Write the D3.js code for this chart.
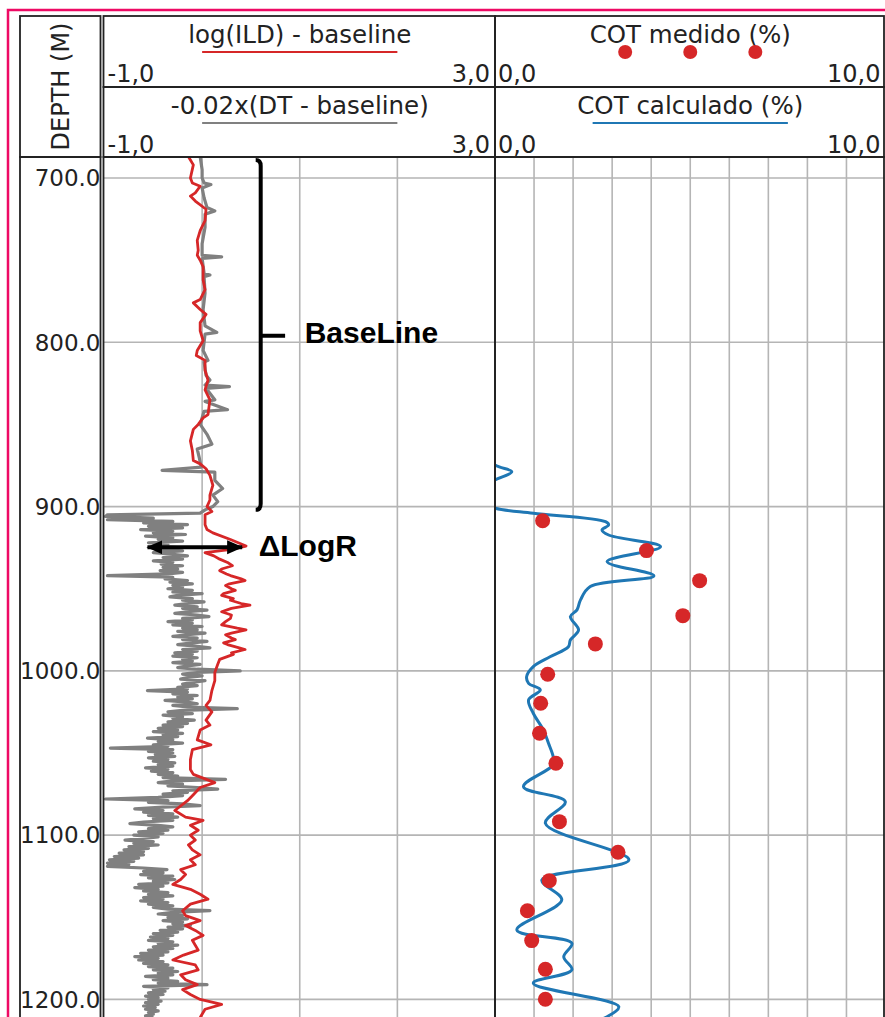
<!DOCTYPE html>
<meta charset="utf-8">
<head>
<style>
  body {
    margin: 0;
    background-color: white;
  }
  svg text {
    font-family: 'DejaVu Sans', sans-serif;
    fill: #222;
  }
  .note {
    font-family: 'Liberation Sans', Arial, sans-serif !important;
    font-weight: bold;
    fill: #000 !important;
  }
</style>
</head>
<body>
<div id="my_dataviz"></div>

<script src="https://cdn.jsdelivr.net/npm/d3@7"></script>
<script>

// ---- data: [depth (m), value] ----
var ildLog = [
  [687,-0.14],[692,-0.09],[700,-0.12],[703,-0.10],[705,-0.02],[709,-0.07],[711,-0.12],[714,-0.07],
  [719,0.04],[726,0.03],[732,-0.02],[738,-0.05],[744,-0.04],[747,-0.05],[750,-0.02],[754,0.01],
  [762,0.01],[768,0.03],[774,-0.02],[776,-0.09],[780,-0.02],[783,0.04],[788,-0.02],[793,-0.02],
  [799,0.01],[805,-0.05],[808,-0.06],[811,0.03],[817,0.03],[823,0.06],[829,0.03],[835,0.08],
  [844,0.06],[846,0.01],[850,-0.04],[853,-0.09],[860,-0.12],[866,-0.10],[872,-0.09],[874,-0.02],
  [877,0.04],[881,0.08],[887,0.11],[893,0.08],[896,0.08],[900,0.05],[903,0.10],[905,0.03],
  [911,0.03],[914,0.05],[916,0.11],[920,0.29],[924,0.45],[926,0.30],[928,0.03],[930,0.12],[932,0.18],
  [934,0.26],[936,0.31],[938,0.2],[939,0.18],[941,0.25],[942,0.29],[944,0.4],[945,0.44],[947,0.28],[948,0.24],
  [950,0.3],[951,0.34],[953,0.22],[954,0.20],[956,0.32],[957,0.29],[959,0.4],[960,0.49],[962,0.3],[964,0.20],
  [966,0.3],[968,0.29],[970,0.24],[972,0.20],[974,0.36],[975,0.45],[977,0.3],[978,0.24],[980,0.3],[981,0.34],
  [983,0.22],[984,0.26],[986,0.38],[987,0.44],[989,0.3],[990,0.32],[993,0.18],[996,0.16],[1001,0.13],
  [1006,0.13],[1012,0.10],[1018,0.08],
  [1021,0.04],[1025,0.10],[1030,0.04],[1033,0.08],[1036,-0.02],[1042,-0.05],[1045,0.09],[1048,-0.10],
  [1054,-0.12],[1060,-0.12],[1063,-0.09],[1068,0.13],[1071,-0.02],[1076,-0.10],[1079,-0.15],[1085,-0.28],
  [1089,-0.17],[1091,0.01],[1094,-0.12],[1097,-0.04],[1100,-0.12],[1103,-0.07],[1106,-0.14],[1109,-0.10],
  [1112,-0.02],[1115,-0.12],[1118,-0.07],[1121,-0.22],[1124,-0.17],[1127,-0.22],[1130,-0.30],[1133,-0.12],
  [1136,-0.02],[1139,0.06],[1142,-0.12],[1146,-0.20],[1149,-0.17],[1152,-0.02],[1155,-0.17],[1158,-0.07],
  [1161,0.01],[1164,-0.10],[1167,-0.07],[1170,-0.04],[1173,-0.19],[1176,-0.30],[1179,-0.07],[1182,-0.04],
  [1185,-0.22],[1188,-0.17],[1191,-0.05],[1194,-0.20],[1197,-0.12],[1200,-0.02],[1203,0.20],[1206,0.03],
  [1211,-0.02]
];

var dtLog = [
  [687,-0.02],[695,0.00],[700,0.00],[703,0.02],[704,0.09],[706,0.00],[712,0.02],[718,0.05],
  [720,0.13],[722,0.03],[730,0.03],[740,0.00],[747,0.00],[748,0.20],[749,0.00],[758,0.02],
  [759,0.08],[760,0.02],[770,0.03],[780,0.01],[790,0.03],[794,0.15],[795,0.03],[805,0.01],
  [811,0.06],[812,0.02],[820,0.04],[823,0.08],[826,0.03],[827,0.28],[828,0.04],[835,0.13],
  [836,0.03],[841,0.26],[842,0.02],[850,-0.02],[856,0.05],[862,0.10],[865,-0.05],[870,-0.03],
  [876,-0.01],[878,-0.41],[879,0.13],[884,0.13],[889,0.21],[893,0.11],[897,0.16],[900,0.11],
  [902,0.03],[904,-0.02],[905,-0.97],[906,-0.99],[907,-0.5],[908,-0.97],[909,-0.3],[910,-0.6],
  [911,-0.15],[912,-0.55],[913,-0.2],[914,-0.63],[915,-0.3],[916,-0.5],[917,-0.17],[918,-0.58],
  [919,-0.3],[920,-0.45],[921,-0.2],[922,-0.55],[923,-0.35],[924,-0.5],[925,-0.25],[926,-0.45],
  [927,-0.2],[928,-0.5],[929,-0.3],[930,-0.15],[931,-0.4],[932,-0.2],[933,-0.5],[934,-0.3],
  [935,-0.42],[936,-0.2],[937,-0.4],[938,-0.25],[939,-0.43],[940,-0.2],[941,-0.35],[942,-0.97],
  [943,-0.3],[944,-0.38],[945,-0.15],[946,-0.33],[947,-0.1],[948,-0.3],[949,-0.2],[950,-0.35],
  [951,-0.1],[952,-0.3],[953,0.0],[954,-0.25],[955,-0.33],[956,-0.1],[957,-0.2],[958,0.02],
  [959,-0.15],[960,-0.28],[961,-0.05],[962,-0.2],[963,0.05],[964,-0.15],[965,-0.28],[966,-0.05],
  [967,0.07],[968,-0.2],[969,-0.1],[970,-0.35],[971,-0.1],[972,-0.3],[973,0.0],[974,-0.2],
  [975,-0.05],[976,-0.25],[977,0.03],[978,-0.15],[979,-0.3],[980,-0.05],[981,-0.2],[982,0.05],
  [983,-0.1],[984,-0.25],[985,-0.05],[986,0.08],[987,-0.2],[988,-0.05],[989,-0.28],[990,-0.1],
  [991,-0.3],[992,-0.05],[993,-0.2],[994,-0.1],[995,-0.3],[996,-0.02],[997,-0.15],[998,-0.25],
  [999,-0.05],[1000,0.39],[1001,-0.05],[1002,-0.2],[1003,0.0],[1004,-0.15],[1005,-0.22],[1006,0.03],
  [1007,-0.1],[1008,-0.2],[1009,-0.05],[1010,-0.25],[1011,-0.15],[1012,-0.56],[1013,-0.15],[1014,-0.3],
  [1015,-0.05],[1016,-0.25],[1017,-0.1],[1018,-0.38],[1019,-0.15],[1020,-0.05],[1021,-0.3],[1022,-0.15],
  [1023,0.36],[1024,-0.2],[1025,-0.35],[1026,-0.1],[1027,-0.4],[1028,-0.2],[1029,-0.3],[1030,-0.08],
  [1031,-0.35],[1032,-0.15],[1033,-0.4],[1034,-0.2],[1035,-0.45],[1036,-0.25],[1037,-0.5],[1038,-0.2],
  [1039,-0.4],[1040,-0.25],[1041,-0.56],[1042,-0.3],[1043,-0.45],[1044,-0.2],[1045,-0.5],[1046,-0.35],
  [1047,-0.94],[1048,-0.3],[1049,-0.55],[1050,-0.3],[1051,-0.48],[1052,-0.28],[1053,-0.55],[1054,-0.35],
  [1055,-0.5],[1056,-0.28],[1057,-0.45],[1058,-0.3],[1059,-0.58],[1060,-0.35],[1061,-0.52],[1062,-0.3],
  [1063,-0.45],[1064,-0.25],[1065,-0.4],[1066,0.24],[1067,-0.3],[1068,-0.45],[1069,-0.2],[1070,-0.35],
  [1071,-0.05],[1072,0.16],[1073,-0.3],[1074,-0.15],[1075,-0.4],[1076,-0.2],[1077,-0.45],[1078,-0.99],
  [1079,-0.35],[1080,-0.55],[1081,-0.2],[1082,-0.02],[1083,-0.4],[1084,-0.69],[1085,-0.4],[1086,-0.6],
  [1087,-0.3],[1088,-0.55],[1089,-0.25],[1090,-0.5],[1091,-0.3],[1092,-0.6],[1093,-0.74],[1094,-0.45],
  [1095,-0.3],[1096,-0.55],[1097,-0.35],[1098,-0.65],[1099,-0.4],[1100,-0.7],[1101,-0.45],[1102,-0.6],
  [1103,-0.79],[1104,-0.5],[1105,-0.7],[1106,-0.45],[1107,-0.75],[1108,-0.55],[1109,-0.8],[1110,-0.6],
  [1111,-0.85],[1112,-0.6],[1113,-0.9],[1114,-0.65],[1115,-0.95],[1116,-0.7],[1117,-0.97],[1118,-0.75],
  [1119,-0.97],[1120,-0.6],[1121,-0.36],[1122,-0.6],[1123,-0.4],[1124,-0.63],[1125,-0.3],[1126,-0.55],
  [1127,-0.28],[1128,-0.5],[1129,-0.35],[1130,-0.65],[1131,-0.4],[1132,-0.69],[1133,-0.45],[1134,-0.6],
  [1135,-0.35],[1136,-0.55],[1137,-0.3],[1138,-0.6],[1139,-0.4],[1140,-0.63],[1141,-0.35],[1142,-0.55],
  [1143,-0.3],[1144,-0.5],[1145,-0.35],[1146,0.08],[1147,-0.3],[1148,-0.45],[1149,-0.2],[1150,-0.35],
  [1151,-0.15],[1152,-0.4],[1153,-0.2],[1154,-0.3],[1155,-0.12],[1156,-0.35],[1157,-0.2],[1158,-0.43],
  [1159,-0.25],[1160,-0.5],[1161,-0.3],[1162,-0.53],[1163,-0.35],[1164,-0.55],[1165,-0.3],[1166,-0.45],
  [1167,-0.25],[1168,-0.5],[1169,-0.3],[1170,-0.55],[1171,-0.35],[1172,-0.63],[1173,-0.4],[1174,-0.69],
  [1175,-0.45],[1176,-0.65],[1177,-0.4],[1178,-0.6],[1179,-0.35],[1180,-0.55],[1181,-0.3],[1182,-0.5],
  [1183,-0.25],[1184,-0.45],[1185,-0.3],[1186,-0.58],[1187,-0.35],[1188,-0.5],[1189,-0.25],[1190,-0.45],
  [1191,0.05],[1192,-0.6],[1193,-0.35],[1194,-0.5],[1195,-0.38],[1196,-0.55],[1197,-0.4],[1198,-0.58],
  [1199,-0.45],[1200,-0.55],[1201,-0.42],[1202,-0.58],[1203,-0.45],[1204,-0.6],[1205,-0.48],[1206,-0.58],
  [1207,-0.45],[1208,-0.55],[1209,-0.5],[1210,-0.58],[1211,-0.5]
];

var cotCalculado = [
  [866,-0.4],[874.7,0],[878.8,0.43],[883.8,0],[890,-0.5],[897,-0.4],[901,0],[904.1,0.98],
  [909.2,2.83],[911.2,2.91],[914.2,2.74],[917.3,2.91],[924.4,4.24],[933.5,2.87],[942.2,4.07],[948.7,2.44],
  [956.8,2.19],[962.9,2.1],[967,1.93],[975.1,2.14],[981.2,1.93],[985.3,1.88],[991.4,1.41],[997.4,0.98],
  [1003.5,0.81],[1007.6,0.86],[1011.6,1.16],[1017.7,0.86],[1025.8,0.98],[1036,1.24],[1044.1,1.37],[1052.2,1.49],
  [1057,1.5],[1070.5,0.73],[1079.6,1.8],[1092.8,1.29],[1115.1,3.43],[1127.3,1.2],[1139.4,1.71],[1157.7,0.56],
  [1165.8,1.97],[1174,1.76],[1182,1.97],[1190.1,0.98],[1204.4,3.17],[1210.5,2.87],[1214,2.5]
];

var cotMedido = [
  [908.6,1.22],[926.8,3.88],[945.1,5.24],[966.4,4.81],[983.6,2.57],[1002.1,1.35],[1019.7,1.17],[1038,1.14],
  [1056.2,1.56],[1091.8,1.65],[1110.4,3.15],[1127.7,1.39],[1146,0.83],[1164.2,0.94],[1181.6,1.29],[1199.9,1.29]
];

var depthTicks = [700, 800, 900, 1000, 1100, 1200];
var track1Grid = [0, 1, 2];
var track2Grid = [1, 2, 3, 4, 5, 6, 7, 8, 9];

// annotations (depth / track-1 units)
var baselineTop = 689, baselineBottom = 902, baselineMid = 796, baselineX = 0.6, baselineTickX = 0.85;
var deltaDepth = 924.8, deltaFrom = -0.56, deltaTo = 0.41;

// ---- layout ----
var W = 885, H = 1017;
var colLeft = 20, colRight = 100.5, t1Left = 103.5, t1Right = 495, t2Right = 884;
var headTop = 16, headMid = 87, headBottom = 157;

var svg = d3.select("#my_dataviz")
  .append("svg")
    .attr("width", W)
    .attr("height", H);

svg.append("rect").attr("width", W).attr("height", H).attr("fill", "white");

var y = d3.scaleLinear().domain([687.2, 1210.7]).range([headBottom, 1017]);
var x1 = d3.scaleLinear().domain([-1, 3]).range([104.5, 495]);
var x2 = d3.scaleLinear().domain([0, 10]).range([495, 885.5]);

// comma decimals with a plain hyphen, like the original
var comma = function(v) { return v.toFixed(1).replace(".", ","); };

// clip paths
var defs = svg.append("defs");
defs.append("clipPath").attr("id", "clip1")
  .append("rect").attr("x", t1Left).attr("y", headBottom).attr("width", t1Right - t1Left).attr("height", H);
defs.append("clipPath").attr("id", "clip2")
  .append("rect").attr("x", t1Right).attr("y", headBottom).attr("width", t2Right - t1Right).attr("height", H);
defs.append("marker")
    .attr("id", "head")
    .attr("markerUnits", "userSpaceOnUse")
    .attr("markerWidth", 18).attr("markerHeight", 16)
    .attr("refX", 15).attr("refY", 7)
    .attr("orient", "auto-start-reverse")
  .append("path")
    .attr("d", "M0,0 L16,7 L0,14 Z")
    .attr("fill", "black");

// ---- grid ----
var grid = svg.append("g").attr("stroke", "#b5b5b5").attr("stroke-width", 1.6);
grid.selectAll(".hg").data(depthTicks).enter().append("line")
  .attr("x1", t1Left).attr("x2", t2Right)
  .attr("y1", function(d) { return y(d) }).attr("y2", function(d) { return y(d) });
grid.selectAll(".vg1").data(track1Grid).enter().append("line")
  .attr("x1", function(d) { return x1(d) }).attr("x2", function(d) { return x1(d) })
  .attr("y1", headBottom).attr("y2", H);
grid.selectAll(".vg2").data(track2Grid).enter().append("line")
  .attr("x1", function(d) { return x2(d) }).attr("x2", function(d) { return x2(d) })
  .attr("y1", headBottom).attr("y2", H);

// ---- curves ----
var line1 = d3.line()
  .x(function(d) { return x1(d[1]) })
  .y(function(d) { return y(d[0]) });

svg.append("path")
  .datum(dtLog)
  .attr("clip-path", "url(#clip1)")
  .attr("fill", "none")
  .attr("stroke", "#808080")
  .attr("stroke-width", 3.2)
  .attr("stroke-linejoin", "round")
  .attr("d", line1);

svg.append("path")
  .datum(ildLog)
  .attr("clip-path", "url(#clip1)")
  .attr("fill", "none")
  .attr("stroke", "#d62728")
  .attr("stroke-width", 2.8)
  .attr("stroke-linejoin", "round")
  .attr("d", line1);

var line2 = d3.line()
  .curve(d3.curveCatmullRom.alpha(0.5))
  .x(function(d) { return x2(d[1]) })
  .y(function(d) { return y(d[0]) });

svg.append("path")
  .datum(cotCalculado)
  .attr("clip-path", "url(#clip2)")
  .attr("fill", "none")
  .attr("stroke", "#1f77b4")
  .attr("stroke-width", 3)
  .attr("d", line2);

svg.append("g")
  .attr("clip-path", "url(#clip2)")
  .selectAll("circle")
  .data(cotMedido)
  .enter()
  .append("circle")
    .attr("cx", function(d) { return x2(d[1]) })
    .attr("cy", function(d) { return y(d[0]) })
    .attr("r", 7.5)
    .attr("fill", "#d62728");

// ---- frames ----
var frame = svg.append("g").attr("fill", "none").attr("stroke", "#222").attr("stroke-width", 1.8);
frame.append("rect").attr("x", colLeft).attr("y", headTop).attr("width", colRight - colLeft).attr("height", headBottom - headTop);
frame.append("rect").attr("x", colLeft).attr("y", headBottom).attr("width", colRight - colLeft).attr("height", H);
[[t1Left, t1Right], [t1Right, t2Right]].forEach(function(t) {
  frame.append("rect").attr("x", t[0]).attr("y", headTop).attr("width", t[1] - t[0]).attr("height", headMid - headTop);
  frame.append("rect").attr("x", t[0]).attr("y", headMid).attr("width", t[1] - t[0]).attr("height", headBottom - headMid);
  frame.append("rect").attr("x", t[0]).attr("y", headBottom).attr("width", t[1] - t[0]).attr("height", H);
});

// ---- depth labels ----
svg.selectAll(".dl").data(depthTicks).enter().append("text")
  .attr("x", colRight)
  .attr("y", function(d) { return y(d) })
  .attr("dy", "0.36em")
  .attr("text-anchor", "end")
  .style("font-size", "23px")
  .text(function(d) { return d.toFixed(1) });

svg.append("text")
  .attr("transform", "translate(" + ((colLeft + colRight) / 2 + 9) + "," + ((headTop + headBottom) / 2) + ") rotate(-90)")
  .attr("text-anchor", "middle")
  .style("font-size", "24px")
  .text("DEPTH (M)");

// ---- headers ----
var headers = [
  {title: "log(ILD) - baseline", row: 0, x: x1, lo: -1, hi: 3, color: "#d62728", type: "line"},
  {title: "-0.02x(DT - baseline)", row: 1, x: x1, lo: -1, hi: 3, color: "#808080", type: "line"},
  {title: "COT medido (%)", row: 0, x: x2, lo: 0, hi: 10, color: "#d62728", type: "dots"},
  {title: "COT calculado (%)", row: 1, x: x2, lo: 0, hi: 10, color: "#1f77b4", type: "line"}
];

headers.forEach(function(h) {
  var top = h.row === 0 ? headTop : headMid;
  var lo = h.x(h.lo), hi = h.x(h.hi), mid = (lo + hi) / 2, span = hi - lo;
  svg.append("text")
    .attr("x", mid).attr("y", top + 27)
    .attr("text-anchor", "middle")
    .style("font-size", "24.5px")
    .text(h.title);
  if (h.type === "line") {
    svg.append("line")
      .attr("x1", lo + span * 0.25).attr("x2", lo + span * 0.75)
      .attr("y1", top + 36).attr("y2", top + 36)
      .attr("stroke", h.color).attr("stroke-width", 2.2);
  } else {
    svg.selectAll(".legdot").data([1 / 3, 1 / 2, 2 / 3]).enter().append("circle")
      .attr("cx", function(f) { return lo + span * f })
      .attr("cy", top + 36)
      .attr("r", 7)
      .attr("fill", h.color);
  }
  svg.append("text")
    .attr("x", lo + 3).attr("y", top + 66)
    .style("font-size", "24px")
    .text(comma(h.lo));
  svg.append("text")
    .attr("x", hi - 5).attr("y", top + 66)
    .attr("text-anchor", "end")
    .style("font-size", "24px")
    .text(comma(h.hi));
});

// ---- annotations ----
var bx = x1(baselineX), bt = y(baselineTop), bb = y(baselineBottom), bm = y(baselineMid);
svg.append("path")
  .attr("d", "M" + (bx - 5) + "," + bt + " Q" + bx + "," + bt + " " + bx + "," + (bt + 6) +
             " V" + (bb - 6) + " Q" + bx + "," + bb + " " + (bx - 5) + "," + bb +
             " M" + bx + "," + bm + " H" + x1(baselineTickX))
  .attr("fill", "none")
  .attr("stroke", "black")
  .attr("stroke-width", 4);

svg.append("text")
  .attr("class", "note")
  .attr("x", x1(baselineX) + 44)
  .attr("y", bm)
  .attr("dy", "0.25em")
  .style("font-size", "30px")
  .text("BaseLine");

svg.append("line")
  .attr("x1", x1(deltaFrom)).attr("x2", x1(deltaTo))
  .attr("y1", y(deltaDepth)).attr("y2", y(deltaDepth))
  .attr("stroke", "black")
  .attr("stroke-width", 4)
  .attr("marker-start", "url(#head)")
  .attr("marker-end", "url(#head)");

svg.append("text")
  .attr("class", "note")
  .attr("x", x1(baselineX) - 2)
  .attr("y", y(deltaDepth))
  .attr("dy", "0.3em")
  .style("font-size", "30px")
  .text("ΔLogR");

// ---- outer pink frame ----
svg.append("path")
  .attr("d", "M8," + H + " V10 H" + W)
  .attr("fill", "none")
  .attr("stroke", "#ee0a64")
  .attr("stroke-width", 2.5);

</script>
</body>
